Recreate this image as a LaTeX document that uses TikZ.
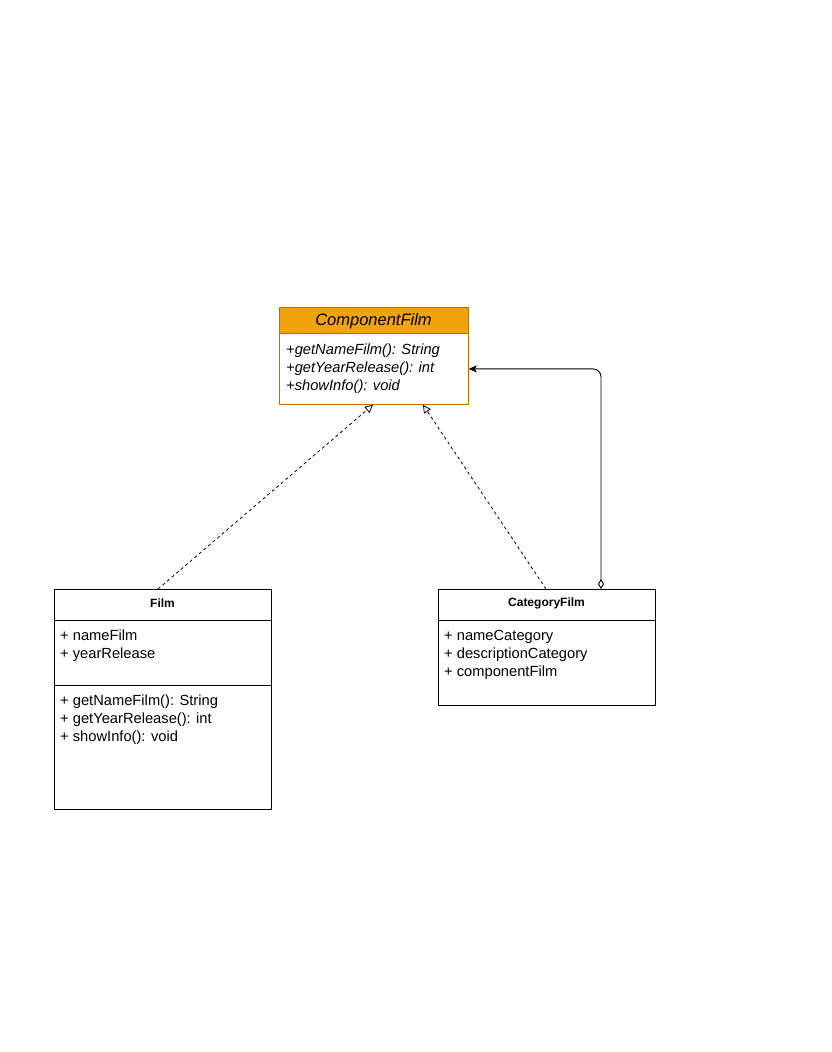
\documentclass[tikz,border=0pt]{standalone}
\usepackage{fontspec}
\setmainfont{Liberation Sans}
\usetikzlibrary{arrows.meta,calc}
\definecolor{compfill}{HTML}{F0A30A}
\definecolor{compstroke}{HTML}{BD7000}
\begin{document}
\begin{tikzpicture}[x=1pt,y=-1pt,
  classbox/.style={draw=black,line width=0.8pt,fill=white,anchor=north west,inner sep=0pt},
  headtext/.style={font=\fontsize{12}{14}\selectfont\bfseries},
  member/.style={anchor=base west,inner sep=0pt,font=\fontsize{14.7}{17}\selectfont},
  imember/.style={member,font=\fontsize{14.7}{17}\selectfont\itshape},
  realize/.style={line width=0.8pt,dash pattern=on 3pt off 3pt,-{Triangle[open,length=8pt,width=8pt]}},
  aggreg/.style={line width=0.9pt,rounded corners=8pt,{Diamond[open,length=10pt,width=6pt]}-{Stealth[length=8pt,width=7pt,inset=2pt]}}
]
\useasboundingbox[fill=white] (0,0) rectangle (832,1052);

% ComponentFilm (interface, italic)
\node[classbox,draw=compstroke,fill=compfill,minimum width=189pt,minimum height=26pt] (comphead) at (279,307) {};
\node[font=\fontsize{16.5}{18}\selectfont\itshape] (comptitle) at (373.5,321) {ComponentFilm};
\node[classbox,draw=compstroke,minimum width=189pt,minimum height=71pt] (compbody) at (279,333) {};
\node[imember] (cm1) at (286,354) {+getNameFilm(): String};
\node[imember] (cm2) at (286,372) {+getYearRelease(): int};
\node[imember] (cm3) at (286,390) {+showInfo(): void};

% Film
\node[classbox,minimum width=217pt,minimum height=31pt] (filmhead) at (54,589) {};
\node[headtext] (filmtitle) at (162.5,603) {Film};
\node[classbox,minimum width=217pt,minimum height=65pt] (filmattr) at (54,620) {};
\node[member] (fa1) at (60,640) {+ nameFilm};
\node[member] (fa2) at (60,658) {+ yearRelease};
\node[classbox,minimum width=217pt,minimum height=124pt] (filmops) at (54,685) {};
\node[member] (fo1) at (60,705) {+ getNameFilm(): String};
\node[member] (fo2) at (60,723) {+ getYearRelease(): int};
\node[member] (fo3) at (60,741) {+ showInfo(): void};

% CategoryFilm
\node[classbox,minimum width=217pt,minimum height=31pt] (cathead) at (438,589) {};
\node[headtext] (cattitle) at (546.5,603) {CategoryFilm};
\node[classbox,minimum width=217pt,minimum height=85pt] (catattr) at (438,620) {};
\node[member] (ca1) at (444,640) {+ nameCategory};
\node[member] (ca2) at (444,658) {+ descriptionCategory};
\node[member] (ca3) at (444,676) {+ componentFilm};

% connector end points on the box borders
\coordinate (filmtop) at ($(filmhead.north west)+(104,0)$);
\coordinate (comprealA) at ($(compbody.south west)+(94,0)$);
\coordinate (cattop) at ($(cathead.north west)+(108,0)$);
\coordinate (comprealB) at ($(compbody.south west)+(144,0)$);
\coordinate (cataggr) at ($(cathead.north west)+(163,0)$);

% realizations
\draw[realize] (filmtop) -- (comprealA);
\draw[realize] (cattop) -- (comprealB);
% aggregation
\draw[aggreg] (cataggr) |- (compbody.east);
\end{tikzpicture}
\end{document}
